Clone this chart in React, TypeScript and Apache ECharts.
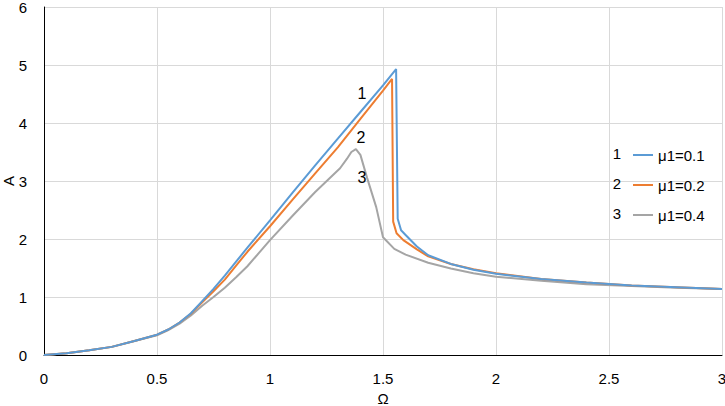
import React, { useEffect, useRef } from "react";
import * as echarts from "echarts";

const seriesNames = ["μ1=0.1", "μ1=0.2", "μ1=0.4"];
const seriesColors = ["#5b9bd5", "#ed7d31", "#a5a5a5"];

const omega1 = [0, 0.1, 0.2, 0.3, 0.4, 0.5, 0.55, 0.6, 0.65, 0.7, 0.75, 0.8, 0.85, 0.9, 1.0, 1.1, 1.2, 1.3, 1.4, 1.5, 1.558, 1.565, 1.58, 1.6, 1.65, 1.7, 1.8, 1.9, 2.0, 2.2, 2.4, 2.6, 2.8, 3.0];
const amp1 = [0, 0.03, 0.08, 0.14, 0.24, 0.35, 0.44, 0.56, 0.72, 0.93, 1.14, 1.37, 1.61, 1.85, 2.32, 2.8, 3.27, 3.73, 4.19, 4.65, 4.93, 2.35, 2.15, 2.07, 1.87, 1.72, 1.57, 1.47, 1.4, 1.31, 1.25, 1.2, 1.17, 1.14];

const omega2 = [0, 0.1, 0.2, 0.3, 0.4, 0.5, 0.55, 0.6, 0.65, 0.7, 0.75, 0.8, 0.85, 0.9, 1.0, 1.1, 1.2, 1.3, 1.4, 1.5, 1.54, 1.545, 1.56, 1.59, 1.65, 1.7, 1.8, 1.9, 2.0, 2.2, 2.4, 2.6, 2.8, 3.0];
const amp2 = [0, 0.03, 0.08, 0.14, 0.24, 0.35, 0.44, 0.56, 0.71, 0.91, 1.1, 1.3, 1.54, 1.78, 2.22, 2.68, 3.13, 3.58, 4.07, 4.56, 4.76, 2.3, 2.1, 1.98, 1.82, 1.7, 1.57, 1.48, 1.41, 1.31, 1.25, 1.2, 1.17, 1.14];

const omega3 = [0, 0.1, 0.2, 0.3, 0.4, 0.5, 0.55, 0.6, 0.65, 0.7, 0.75, 0.8, 0.85, 0.9, 1.0, 1.1, 1.2, 1.31, 1.34, 1.36, 1.38, 1.4, 1.43, 1.47, 1.5, 1.55, 1.6, 1.7, 1.8, 1.9, 2.0, 2.2, 2.4, 2.6, 2.8, 3.0];
const amp3 = [0, 0.03, 0.08, 0.14, 0.24, 0.34, 0.43, 0.54, 0.68, 0.85, 1.0, 1.16, 1.34, 1.53, 1.98, 2.4, 2.81, 3.22, 3.38, 3.5, 3.55, 3.45, 3.05, 2.55, 2.03, 1.83, 1.73, 1.59, 1.49, 1.41, 1.35, 1.28, 1.22, 1.19, 1.16, 1.14];

const xTicks = [0, 0.5, 1, 1.5, 2, 2.5, 3];
const yTicks = [0, 1, 2, 3, 4, 5, 6];
const curveLabels = ["1", "2", "3"];
const xName = "Ω";
const yName = "A";

const FONT = "Liberation Sans";
const FS = 15;

const zip = (xs: number[], ys: number[]) => xs.map((x, i) => [x, ys[i]]);

export default function App() {
  const ref = useRef<HTMLDivElement>(null);
  useEffect(() => {
    if (!ref.current) return;
    const chart = echarts.init(ref.current, undefined, { renderer: "svg" });
    const allX = [omega1, omega2, omega3];
    const allY = [amp1, amp2, amp3];
    const labelPos = [
      [362, 93],
      [361, 137],
      [362, 177],
    ];
    const legendNumPos = [
      [617, 153],
      [617, 183],
      [617, 213],
    ];
    chart.setOption({
      animation: false,
      textStyle: { fontFamily: FONT },
      grid: { left: 44, right: 3, top: 7, bottom: 51, containLabel: false, outerBoundsMode: "none" },
      xAxis: {
        type: "value",
        min: xTicks[0],
        max: xTicks[xTicks.length - 1],
        interval: 0.5,
        name: xName,
        nameLocation: "middle",
        nameGap: 35,
        nameTextStyle: { fontFamily: FONT, fontSize: FS, color: "#000" },
        axisLine: { show: true, onZero: false, lineStyle: { color: "#000", width: 1 } },
        axisTick: { show: false },
        axisLabel: { fontFamily: FONT, fontSize: FS, color: "#000", margin: 16 },
        splitLine: { show: true, lineStyle: { color: "#d9d9d9", width: 1 } },
      },
      yAxis: {
        type: "value",
        min: yTicks[0],
        max: yTicks[yTicks.length - 1],
        interval: 1,
        axisLine: { show: true, lineStyle: { color: "#000", width: 1 } },
        axisTick: { show: false },
        axisLabel: { fontFamily: FONT, fontSize: FS, color: "#000", margin: 17 },
        splitLine: { show: true, lineStyle: { color: "#d9d9d9", width: 1 } },
      },
      legend: {
        orient: "vertical",
        left: 628,
        top: 142,
        itemGap: 14,
        itemWidth: 20,
        itemHeight: 2,
        icon: "rect",
        textStyle: { fontFamily: FONT, fontSize: FS, color: "#000", lineHeight: 16 },
        data: seriesNames,
      },
      graphic: [
        {
          type: "text",
          x: 8,
          y: 181,
          rotation: Math.PI / 2,
          style: { text: yName, fontFamily: FONT, fontSize: FS, fill: "#000", align: "center", verticalAlign: "middle" },
        },
        ...curveLabels.map((t, i) => ({
          type: "text",
          x: labelPos[i][0],
          y: labelPos[i][1],
          style: { text: t, fontFamily: FONT, fontSize: 16, fill: "#000", align: "center", verticalAlign: "middle" },
          z: 100,
        })),
        ...curveLabels.map((t, i) => ({
          type: "text",
          x: legendNumPos[i][0],
          y: legendNumPos[i][1],
          style: { text: t, fontFamily: FONT, fontSize: FS, fill: "#000", align: "center", verticalAlign: "middle" },
          z: 100,
        })),
      ],
      series: seriesNames.map((name, i) => ({
        name,
        type: "line",
        data: zip(allX[i], allY[i]),
        showSymbol: false,
        symbol: "none",
        smooth: false,
        lineStyle: { color: seriesColors[i], width: 2 },
        itemStyle: { color: seriesColors[i] },
        z: 10 - i,
      })),
    });
    return () => chart.dispose();
  }, []);
  return <div ref={ref} style={{ width: 725, height: 406, position: "absolute", left: 0, top: 0 }} />;
}
